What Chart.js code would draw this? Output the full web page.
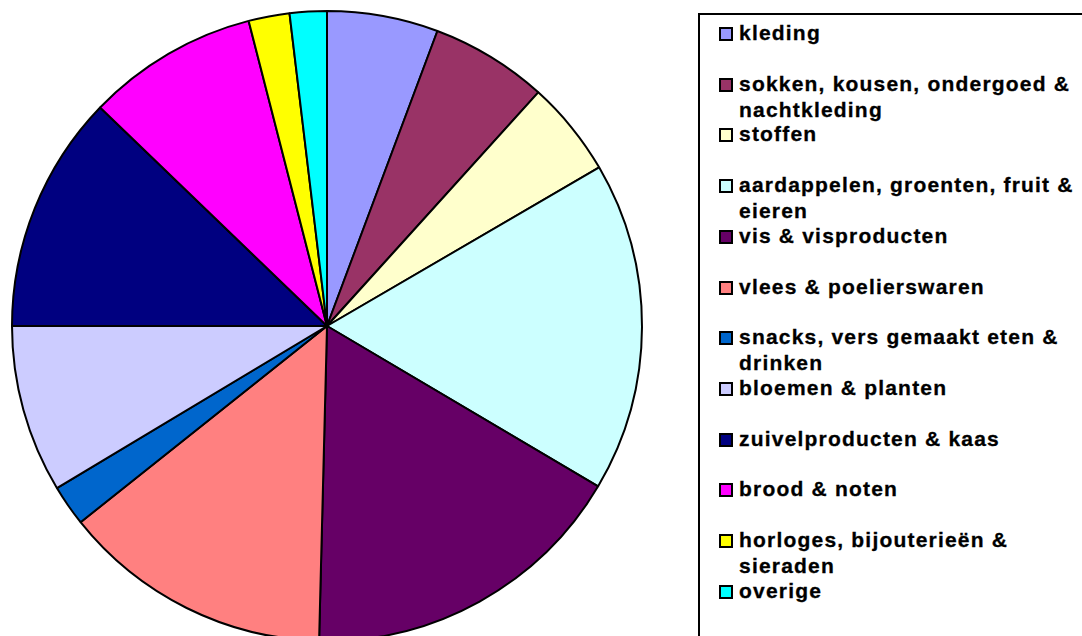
<!DOCTYPE html>
<html>
<head>
<meta charset="utf-8">
<script src="https://cdn.jsdelivr.net/npm/chart.js@4/dist/chart.umd.min.js"></script>
<style>
  html, body { margin: 0; padding: 0; background: #fff; overflow: hidden; width: 1082px; height: 636px; }
  #pie { position: absolute; left: 0; top: 0; }
  #legend {
    position: absolute; left: 698px; top: 13px; width: 420px; height: 700px;
    border: 2px solid #000; box-sizing: border-box;
  }
  .item { position: absolute; left: 0; }
  .box { position: absolute; left: 19px; top: 7px; width: 10px; height: 10px; border: 2px solid #000; }
  .txt {
    position: absolute; left: 39px; white-space: nowrap;
    font-family: "Liberation Sans", Arial, sans-serif; font-weight: bold;
    font-size: 21px; line-height: 26px; letter-spacing: 1.2px; color: #000;
    -webkit-text-stroke: 0.3px #000;
  }
</style>
</head>
<body>
<canvas id="pie" width="654" height="652"></canvas>
<div id="legend"></div>
<script>
// categories (each entry: lines as wrapped in the legend)
var categories = [
  ["kleding"],
  ["sokken, kousen, ondergoed &", "nachtkleding"],
  ["stoffen"],
  ["aardappelen, groenten, fruit &", "eieren"],
  ["vis & visproducten"],
  ["vlees & poelierswaren"],
  ["snacks, vers gemaakt eten &", "drinken"],
  ["bloemen & planten"],
  ["zuivelproducten & kaas"],
  ["brood & noten"],
  ["horloges, bijouterieën &", "sieraden"],
  ["overige"]
];
var shares = [5.7, 6.0, 4.9, 16.9, 16.9, 13.9, 2.1, 8.6, 12.2, 8.8, 2.1, 1.9];
var colors = ["#9999FF", "#993366", "#FFFFCC", "#CCFFFF", "#660066", "#FF8080",
              "#0066CC", "#CCCCFF", "#000080", "#FF00FF", "#FFFF00", "#00FFFF"];

var ctx = document.getElementById("pie").getContext("2d");
var chart = new Chart(ctx, {
  type: "pie",
  data: {
    labels: categories.map(function (c) { return c.join(" "); }),
    datasets: [{
      data: shares,
      backgroundColor: colors,
      borderColor: "#000",
      borderWidth: 2
    }]
  },
  options: {
    responsive: false,
    animation: false,
    layout: { padding: 10 },
    plugins: { legend: { display: false }, tooltip: { enabled: false } }
  }
});

// legend, fixed slot spacing like the original
var legend = document.getElementById("legend");
var slot = 50.7;
categories.forEach(function (lines, i) {
  var item = document.createElement("div");
  item.className = "item";
  item.style.top = (5 + i * slot) + "px";
  var box = document.createElement("div");
  box.className = "box";
  box.style.background = colors[i];
  var txt = document.createElement("div");
  txt.className = "txt";
  txt.innerHTML = lines.join("<br>");
  item.appendChild(box);
  item.appendChild(txt);
  legend.appendChild(item);
});
</script>
</body>
</html>
